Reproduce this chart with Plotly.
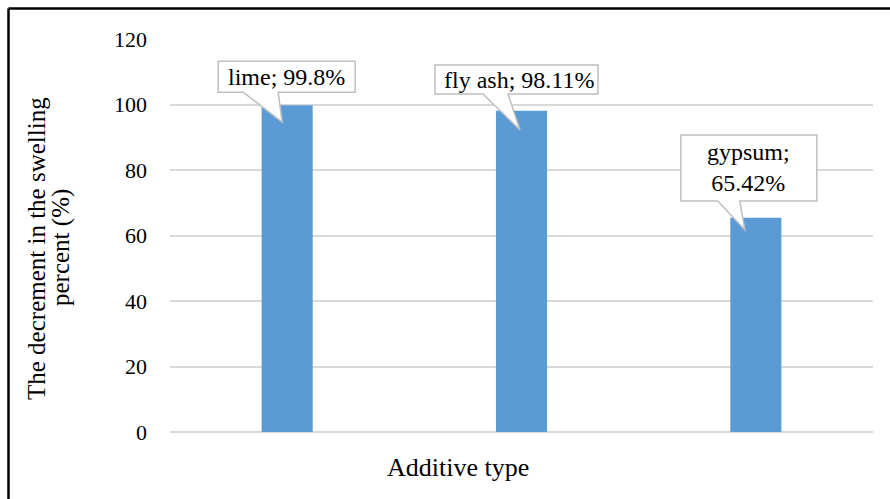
import plotly.graph_objects as go

# Data
additives = ["lime", "fly ash", "gypsum"]
decrement = [99.8, 98.11, 65.42]
label_text = ["lime; 99.8%", "fly ash; 98.11%", "gypsum;<br>65.42%"]
y_ticks = [0, 20, 40, 60, 80, 100, 120]

BAR_COLOR = "#5b9bd5"
GRID_COLOR = "#d9d9d9"
FONT = "Liberation Serif"

W, H = 890, 499
L, R, T, B = 170, 17, 39, 67
PW, PH = W - L - R, H - T - B


def px_x(px):
    return (px - L) / PW


def px_y(py):
    return (H - B - py) / PH


fig = go.Figure(
    go.Bar(
        x=additives,
        y=decrement,
        marker=dict(color=BAR_COLOR, line=dict(width=0)),
        width=0.218,
        hoverinfo="skip",
    )
)

# Callout geometry in pixel offsets from the top-centre of each bar:
# (box left, box right, box bottom, box top, wedge left, wedge right, tip x, tip y, text dx, text dy)
callouts = [
    (-69, 68, 13, 44, -44, -9, -5, -17, -0.5, 28.5),
    (-86.5, 76.5, 16.7, 45.7, -38.5, -13.5, -1.5, -19.3, -3, 31),
    (-75, 61, 16.75, 82.75, -38, -16, -11, -12.25, -7, 50),
]

shapes = []
annotations = []
for cat, val, txt, c in zip(additives, decrement, label_text, callouts):
    x0, x1, y0, y1, wl, wr, tx, ty, dx, dy = c
    path = (
        f"M{x0},{y1} L{x1},{y1} L{x1},{y0} L{wr},{y0} "
        f"L{tx},{ty} L{wl},{y0} L{x0},{y0} Z"
    )
    shapes.append(dict(
        type="path", xref="x", yref="y",
        xsizemode="pixel", ysizemode="pixel",
        xanchor=cat, yanchor=val, path=path,
        fillcolor="white", line=dict(color="#bfbfbf", width=1.5),
        layer="above",
    ))
    annotations.append(dict(
        x=cat, y=val, xref="x", yref="y", text=txt, showarrow=False,
        xshift=dx, yshift=dy, xanchor="center", yanchor="middle",
        font=dict(family=FONT, size=24, color="black"), align="center",
    ))

# Outer frame (top and left edges)
shapes.append(dict(type="line", xref="paper", yref="paper",
                   x0=px_x(8.5), x1=px_x(895), y0=px_y(8.5), y1=px_y(8.5),
                   line=dict(color="black", width=2.5)))
shapes.append(dict(type="line", xref="paper", yref="paper",
                   x0=px_x(8.5), x1=px_x(8.5), y0=px_y(8.5), y1=px_y(505),
                   line=dict(color="black", width=2.5)))

# Axis titles
annotations.append(dict(
    x=px_x(36), y=px_y(249), xref="paper", yref="paper",
    text="The decrement in the swelling", textangle=-90, showarrow=False,
    xanchor="center", yanchor="middle",
    font=dict(family=FONT, size=25, color="black"),
))
annotations.append(dict(
    x=px_x(61), y=px_y(248), xref="paper", yref="paper",
    text="percent (%)", textangle=-90, showarrow=False,
    xanchor="center", yanchor="middle",
    font=dict(family=FONT, size=25, color="black"),
))
annotations.append(dict(
    x=px_x(458), y=px_y(467), xref="paper", yref="paper",
    text="Additive type", showarrow=False,
    xanchor="center", yanchor="middle",
    font=dict(family=FONT, size=26, color="black"),
))

fig.update_layout(
    width=W, height=H,
    margin=dict(l=L, r=R, t=T, b=B, autoexpand=False),
    paper_bgcolor="white", plot_bgcolor="white",
    font=dict(family=FONT, color="black"),
    showlegend=False, bargap=0.78,
    shapes=shapes, annotations=annotations,
    xaxis=dict(showticklabels=False, showgrid=False, zeroline=False,
               showline=False, ticks="", fixedrange=True),
    yaxis=dict(range=[0, 120], tickvals=y_ticks, showgrid=True,
               gridcolor=GRID_COLOR, gridwidth=1.5, zeroline=True,
               zerolinecolor=GRID_COLOR, zerolinewidth=2, showline=False,
               ticks="", ticklabelstandoff=22,
               tickfont=dict(family=FONT, size=22, color="black"),
               fixedrange=True),
)

fig.write_html("out.html")
